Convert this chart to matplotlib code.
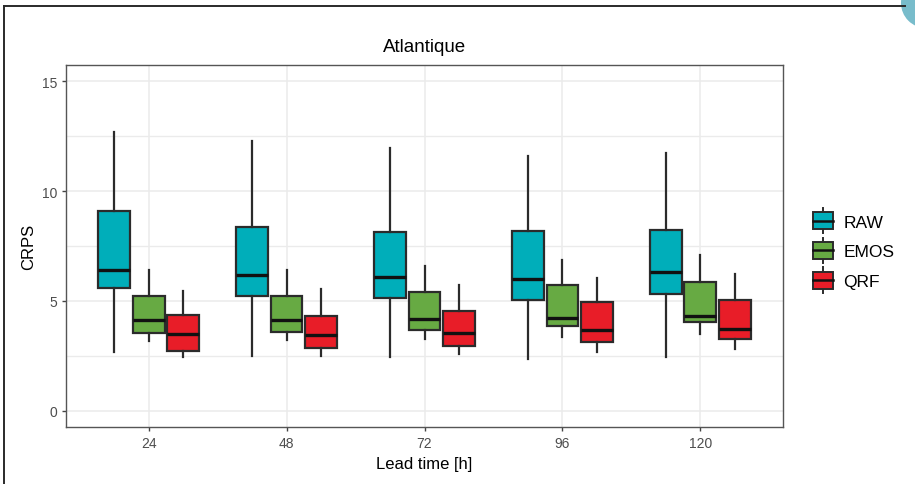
import matplotlib
matplotlib.use("Agg")
import matplotlib.pyplot as plt
from matplotlib.patches import Rectangle, Circle
from matplotlib.lines import Line2D
from matplotlib.legend_handler import HandlerBase
import numpy as np

plt.rcParams['font.family'] = ['Liberation Sans', 'DejaVu Sans']

lead_times = ["24", "48", "72", "96", "120"]
methods = ["RAW", "EMOS", "QRF"]
colors = {"RAW": "#00AEBA", "EMOS": "#67AA43", "QRF": "#E81D28"}

# per method: whisker low, Q1, median, Q3, whisker high (per lead time)
raw_whislo = [2.65, 2.50, 2.43, 2.36, 2.43]
raw_q1     = [5.57, 5.23, 5.12, 5.06, 5.33]
raw_med    = [6.40, 6.16, 6.10, 6.01, 6.30]
raw_q3     = [9.08, 8.35, 8.13, 8.18, 8.25]
raw_whishi = [12.70, 12.29, 11.97, 11.61, 11.73]

emos_whislo = [3.19, 3.22, 3.28, 3.37, 3.49]
emos_q1     = [3.52, 3.57, 3.68, 3.84, 4.02]
emos_med    = [4.11, 4.12, 4.16, 4.22, 4.29]
emos_q3     = [5.20, 5.23, 5.41, 5.74, 5.87]
emos_whishi = [6.42, 6.42, 6.60, 6.87, 7.08]

qrf_whislo = [2.45, 2.49, 2.59, 2.68, 2.80]
qrf_q1     = [2.71, 2.85, 2.95, 3.12, 3.28]
qrf_med    = [3.51, 3.46, 3.52, 3.66, 3.72]
qrf_q3     = [4.34, 4.31, 4.52, 4.93, 5.05]
qrf_whishi = [5.47, 5.53, 5.74, 6.02, 6.21]

y_ticks = [0, 5, 10, 15]

data = {
    "RAW": (raw_whislo, raw_q1, raw_med, raw_q3, raw_whishi),
    "EMOS": (emos_whislo, emos_q1, emos_med, emos_q3, emos_whishi),
    "QRF": (qrf_whislo, qrf_q1, qrf_med, qrf_q3, qrf_whishi),
}

fig = plt.figure(figsize=(9.15, 4.85), dpi=100)
ax = fig.add_axes([66 / 915, 1 - 428 / 485, (783 - 66) / 915, (428 - 66) / 485])

edge = "#2b2b2b"
offsets = {"RAW": -0.25, "EMOS": 0.0, "QRF": 0.25}
x_base = np.arange(1, len(lead_times) + 1)
for m in methods:
    lo, q1, med, q3, hi = data[m]
    stats = []
    for i in range(len(lead_times)):
        stats.append(dict(whislo=lo[i], q1=q1[i], med=med[i], q3=q3[i], whishi=hi[i], fliers=[]))
    ax.bxp(stats, positions=x_base + offsets[m], widths=0.23, patch_artist=True,
           showcaps=False, showfliers=False,
           boxprops=dict(facecolor=colors[m], edgecolor=edge, linewidth=1.6),
           whiskerprops=dict(color=edge, linewidth=1.6),
           medianprops=dict(color="#111111", linewidth=2.4),
           zorder=3)

ax.set_xlim(0.4, len(lead_times) + 0.6)
ax.set_ylim(-0.75, 15.75)
ax.set_xticks(x_base)
ax.set_xticklabels(lead_times)
ax.set_yticks(y_ticks)
ax.set_yticks([2.5, 7.5, 12.5], minor=True)
ax.grid(True, which="major", color="#EBEBEB", linewidth=1.1, zorder=0)
ax.grid(True, which="minor", axis="y", color="#EBEBEB", linewidth=1.0, zorder=0)
ax.set_axisbelow(True)
for s in ax.spines.values():
    s.set_color("#555555")
    s.set_linewidth(1.0)
ax.tick_params(axis="both", which="major", colors="#444444", labelcolor="#4d4d4d",
               labelsize=10, length=3, width=1.0)
ax.tick_params(axis="both", which="minor", length=0)

ax.set_title("Atlantique", fontsize=13.5, color="black", pad=10)
ax.set_xlabel("Lead time [h]", fontsize=12, labelpad=4)
ax.set_ylabel("CRPS", fontsize=12, labelpad=4)


class BoxHandler(HandlerBase):
    def __init__(self, color):
        super().__init__()
        self.color = color

    def create_artists(self, legend, orig_handle, xdescent, ydescent, width, height, fontsize, trans):
        cx = width / 2 - xdescent
        bw = width * 0.8
        bh = height * 1.1
        by = height / 2 - ydescent - bh / 2
        wl1 = Line2D([cx, cx], [by - 3, by], color=edge, linewidth=1.4, transform=trans)
        wl2 = Line2D([cx, cx], [by + bh, by + bh + 3], color=edge, linewidth=1.4, transform=trans)
        r = Rectangle((cx - bw / 2, by), bw, bh, facecolor=self.color, edgecolor=edge,
                      linewidth=1.4, transform=trans)
        med = Line2D([cx - bw / 2, cx + bw / 2], [by + bh / 2, by + bh / 2], color="#111111",
                     linewidth=1.8, transform=trans)
        return [wl1, wl2, r, med]


handles = [Rectangle((0, 0), 1, 1) for m in methods]
handler_map = {h: BoxHandler(colors[m]) for h, m in zip(handles, methods)}
fig.legend(handles, methods, handler_map=handler_map, loc="center left",
           bbox_to_anchor=(795 / 915, 1 - 252 / 485), frameon=False, fontsize=12.5,
           handlelength=1.4, handleheight=1.0, handletextpad=0.5, labelspacing=0.75)

# page decoration: frame lines and corner circle
fig.add_artist(Line2D([4 / 915, 4 / 915], [0, 1 - 7 / 485], color="#2a2a2a", linewidth=1.4,
                      transform=fig.transFigure))
fig.add_artist(Line2D([4 / 915, 905 / 915], [1 - 7 / 485, 1 - 7 / 485], color="#2a2a2a",
                      linewidth=1.4, transform=fig.transFigure))
fig.add_artist(Circle((926, 485 - 4), 25, transform=None, facecolor="#78BCCB", edgecolor="none"))

fig.savefig("out.png", dpi=100)
